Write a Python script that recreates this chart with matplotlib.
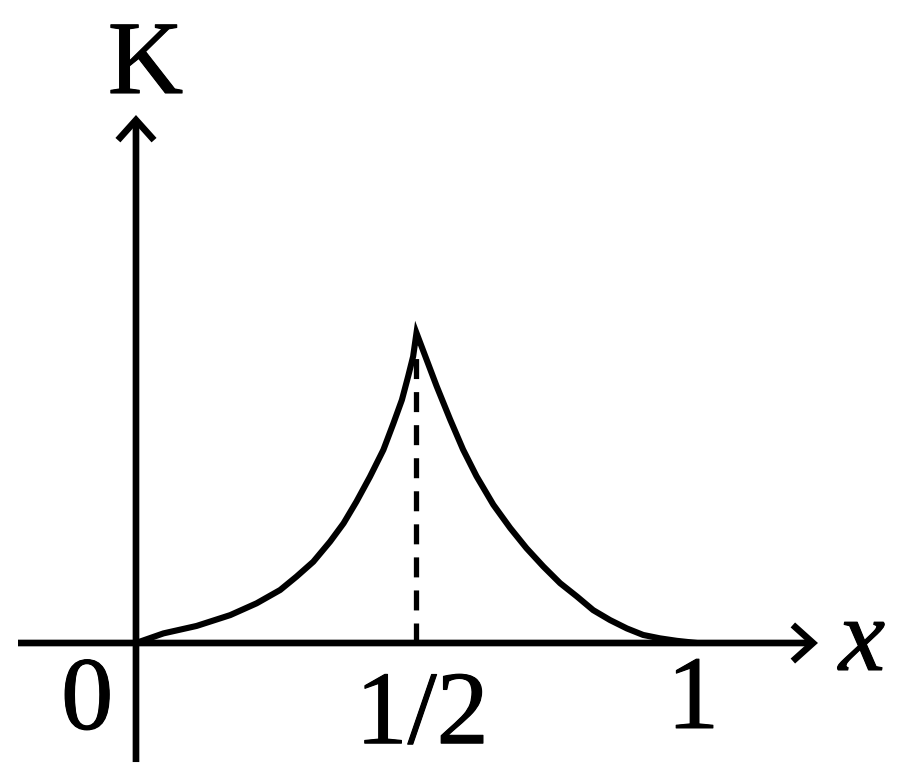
import matplotlib
matplotlib.use("Agg")
import matplotlib.pyplot as plt
import matplotlib.patheffects as pe

# Curve K(x) (peak normalised to 1)
x_left = [0.0, 0.049, 0.108, 0.168, 0.215, 0.257, 0.286, 0.316, 0.346, 0.370,
          0.393, 0.417, 0.441, 0.459, 0.474, 0.485, 0.494, 0.5]
k_left = [0.0, 0.031, 0.055, 0.090, 0.128, 0.171, 0.214, 0.262, 0.327, 0.386,
          0.456, 0.536, 0.623, 0.709, 0.784, 0.859, 0.924, 1.0]
x_right = [0.5, 0.518, 0.536, 0.560, 0.583, 0.607, 0.637, 0.667, 0.696, 0.726,
           0.756, 0.786, 0.815, 0.845, 0.875, 0.904, 0.934, 0.964, 1.0]
k_right = [1.0, 0.914, 0.828, 0.721, 0.624, 0.538, 0.446, 0.371, 0.306, 0.247,
           0.193, 0.150, 0.106, 0.074, 0.047, 0.026, 0.015, 0.007, 0.0]
tick_pos = [0.0, 0.5, 1.0]
tick_labels = ["0", "1/2", "1"]
peak_x = 0.5
peak_dash_top = 0.96

plt.rcParams["lines.scale_dashes"] = False
plt.rcParams["font.family"] = ["Liberation Serif", "DejaVu Serif"]
fig = plt.figure(figsize=(9, 7.76), dpi=100)
ax = fig.add_axes([0, 0, 1, 1])
ax.set_xlim(-0.2424, 1.3619)
ax.set_ylim(-0.429, 2.074)
ax.axis("off")

# axes with open arrow heads
arrow_kw = dict(arrowstyle="->,head_length=1.45,head_width=1.3",
                lw=4.8, color="black", shrinkA=0, shrinkB=0,
                joinstyle="miter", capstyle="butt")
ax.annotate("", xy=(1.2157, 0), xytext=(-0.2103, 0), arrowprops=arrow_kw)
ax.annotate("", xy=(0, 1.703), xytext=(0, -0.384), arrowprops=arrow_kw)

# curve
xs = x_left + x_right[1:]
ks = k_left + k_right[1:]
ax.plot(xs, ks, color="black", lw=4.4, solid_joinstyle="miter",
        solid_capstyle="butt")

# dashed drop line
ax.plot([peak_x, peak_x], [0, peak_dash_top], color="black", lw=3.8,
        dashes=(14.4, 9.4), dash_capstyle="butt")

thick = [pe.withStroke(linewidth=0.8, foreground="black")]
font = dict(size=75, color="black", path_effects=thick)
label_y = {"0": -0.277, "1/2": -0.323, "1": -0.274}
label_dx = {"0": -0.087, "1/2": 0.01, "1": -0.007}
for p, t in zip(tick_pos, tick_labels):
    ax.text(p + label_dx[t], label_y[t], t, ha="center", va="baseline", **font)

ax.text(0.017, 1.774, "K", ha="center", va="baseline", **font)
ax.text(1.294, -0.087, "x", ha="center", va="baseline", style="italic", **font)

fig.savefig("out.png", dpi=100)
